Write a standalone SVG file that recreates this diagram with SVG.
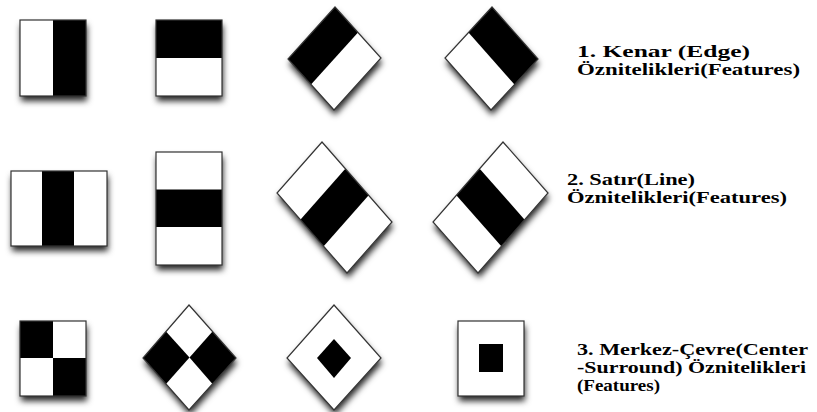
<svg xmlns="http://www.w3.org/2000/svg" width="817" height="412" viewBox="0 0 817 412">
<defs>
<filter id="sh" x="-30%" y="-30%" width="160%" height="160%">
<feDropShadow dx="1" dy="5" stdDeviation="3" flood-color="#000" flood-opacity="0.85"/>
</filter>
</defs>
<style>
.w{fill:#fff}
.b{fill:#000}
.o{fill:none;stroke:#333;stroke-width:1.2}
.t{font-family:"Liberation Serif","Times New Roman",serif;font-weight:bold;font-size:16px;fill:#000}
</style>
<rect width="817" height="412" fill="#fff"/>

<g id="edge-vertical">
<rect x="20" y="20" width="66" height="76" class="w" filter="url(#sh)"/>
<rect x="53" y="20" width="33" height="76" class="b"/>
<rect x="20" y="20" width="66" height="76" class="o"/>
</g>
<g id="edge-horizontal">
<rect x="156" y="20" width="66" height="76" class="w" filter="url(#sh)"/>
<rect x="156" y="20" width="66" height="38" class="b"/>
<rect x="156" y="20" width="66" height="76" class="o"/>
</g>
<g id="edge-diag-1">
<polygon points="335,7 381,58 334,110 288,59" class="w" filter="url(#sh)"/>
<polygon points="335,7 358,32.5 311,84.5 288,59" class="b"/>
<polygon points="335,7 381,58 334,110 288,59" class="o"/>
</g>
<g id="edge-diag-2">
<polygon points="492,7 538,59 491,110 445,58" class="w" filter="url(#sh)"/>
<polygon points="492,7 538,59 514.5,84.5 468.5,32.5" class="b"/>
<polygon points="492,7 538,59 491,110 445,58" class="o"/>
</g>

<g id="line-vertical">
<rect x="11" y="171" width="96" height="75" class="w" filter="url(#sh)"/>
<rect x="42" y="171" width="32" height="75" class="b"/>
<rect x="11" y="171" width="96" height="75" class="o"/>
</g>
<g id="line-horizontal">
<rect x="156" y="152" width="66" height="113" class="w" filter="url(#sh)"/>
<rect x="156" y="189.5" width="66" height="37.5" class="b"/>
<rect x="156" y="152" width="66" height="113" class="o"/>
</g>
<g id="line-diag-1">
<polygon points="322,142 392,222 347,273 277,193" class="w" filter="url(#sh)"/>
<polygon points="345.33,168.67 368.67,195.33 323.67,246.33 300.33,219.67" class="b"/>
<polygon points="322,142 392,222 347,273 277,193" class="o"/>
</g>
<g id="line-diag-2">
<polygon points="503,142 548,193 478,273 433,222" class="w" filter="url(#sh)"/>
<polygon points="479.67,168.67 524.67,219.67 501.33,246.33 456.33,195.33" class="b"/>
<polygon points="503,142 548,193 478,273 433,222" class="o"/>
</g>

<g id="center-checker">
<rect x="20" y="321" width="66" height="75" class="w" filter="url(#sh)"/>
<rect x="20" y="321" width="33" height="37" class="b"/>
<rect x="53" y="358" width="33" height="38" class="b"/>
<rect x="20" y="321" width="66" height="75" class="o"/>
</g>
<g id="center-checker-diag">
<polygon points="189,305 236,358 189,410 143,358" class="w" filter="url(#sh)"/>
<polygon points="143,358 166,331.5 189.5,357.5 166,384" class="b"/>
<polygon points="236,358 212.5,331.5 189.5,357.5 212.5,384" class="b"/>
<polygon points="189,305 236,358 189,410 143,358" class="o"/>
</g>
<g id="center-diamond">
<polygon points="334,305 381,358 334,410 287,358" class="w" filter="url(#sh)"/>
<polygon points="334,339 351,358 334,378 317,358" class="b"/>
<polygon points="334,305 381,358 334,410 287,358" class="o"/>
</g>
<g id="center-square">
<rect x="458" y="321" width="66" height="75" class="w" filter="url(#sh)"/>
<rect x="479" y="344" width="24" height="28" class="b"/>
<rect x="458" y="321" width="66" height="75" class="o"/>
</g>

<g id="label-1">
<text class="t" x="577" y="57" textLength="173" lengthAdjust="spacingAndGlyphs">1. Kenar (Edge)</text>
<text class="t" x="577" y="75" textLength="223" lengthAdjust="spacingAndGlyphs">Öznitelikleri(Features)</text>
</g>
<g id="label-2">
<text class="t" x="567" y="185" textLength="128" lengthAdjust="spacingAndGlyphs">2. Satır(Line)</text>
<text class="t" x="567" y="203" textLength="220" lengthAdjust="spacingAndGlyphs">Öznitelikleri(Features)</text>
</g>
<g id="label-3">
<text class="t" x="577" y="355" textLength="231" lengthAdjust="spacingAndGlyphs">3. Merkez-Çevre(Center</text>
<text class="t" x="577" y="373" textLength="229" lengthAdjust="spacingAndGlyphs">-Surround) Öznitelikleri</text>
<text class="t" x="577" y="391" textLength="83" lengthAdjust="spacingAndGlyphs">(Features)</text>
</g>
</svg>
